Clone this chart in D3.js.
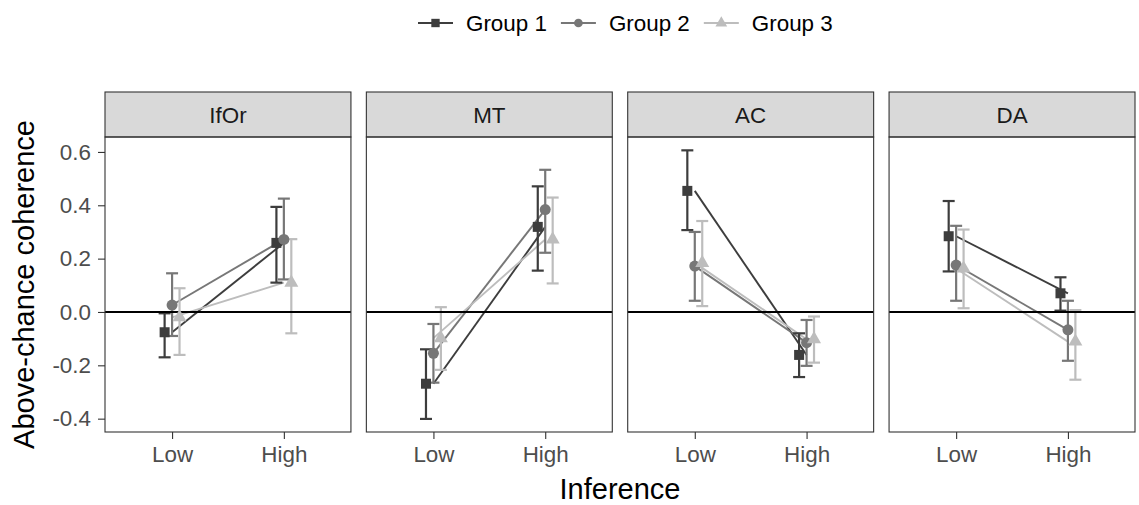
<!DOCTYPE html>
<html>
<head>
<meta charset="utf-8">
<script src="https://cdn.jsdelivr.net/npm/d3@7"></script>
<style>
  body { margin: 0; background: #fff; }
  text { font-family: "Liberation Sans", Arial, sans-serif; }
</style>
</head>
<body>
<svg id="chart" width="1139" height="505"></svg>
<script>
// facets, x levels and groups
var panels = ["IfOr", "MT", "AC", "DA"];
var levels = ["Low", "High"];
var groups = ["Group 1", "Group 2", "Group 3"];
var yTicks = [-0.4, -0.2, 0.0, 0.2, 0.4, 0.6];

// means per group: one [Low, High] pair per panel
var g1Mean = [[-0.076, 0.259], [-0.269, 0.319], [0.454, -0.161], [0.284, 0.070]];
var g2Mean = [[0.026, 0.272], [-0.155, 0.384], [0.172, -0.115], [0.176, -0.067]];
var g3Mean = [[-0.020, 0.110], [-0.098, 0.272], [0.184, -0.102], [0.163, -0.111]];

// error bar upper ends
var g1Upper = [[-0.005, 0.394], [-0.140, 0.471], [0.606, -0.080], [0.416, 0.130]];
var g2Upper = [[0.145, 0.425], [-0.045, 0.533], [0.300, -0.030], [0.323, 0.042]];
var g3Upper = [[0.089, 0.273], [0.018, 0.429], [0.341, -0.017], [0.309, 0.007]];

// error bar lower ends
var g1Lower = [[-0.170, 0.110], [-0.401, 0.155], [0.307, -0.244], [0.152, 0.005]];
var g2Lower = [[-0.090, 0.122], [-0.265, 0.222], [0.042, -0.202], [0.042, -0.183]];
var g3Lower = [[-0.161, -0.080], [-0.217, 0.107], [0.022, -0.190], [0.014, -0.254]];

var means = [g1Mean, g2Mean, g3Mean];
var uppers = [g1Upper, g2Upper, g3Upper];
var lowers = [g1Lower, g2Lower, g3Lower];
var colors = ["#3d3d3d", "#777777", "#bdbdbd"];
var shapes = [d3.symbolSquare, d3.symbolCircle, d3.symbolTriangle];

var svg = d3.select("#chart");

var panelTop = 137, panelBottom = 432, stripTop = 92;
var facet = d3.scaleBand().domain(panels).range([105, 1135]).paddingInner(0.059);
var w = facet.bandwidth();
var x = d3.scalePoint().domain(levels).range([0, w]).padding(0.6);
var y = d3.scaleLinear().domain([-0.45, 0.656]).range([panelBottom, panelTop]);
var dodge = x.step() * 0.2 / 3;

function fmt(v) {
    return Math.abs(v) < 1e-9 ? "0.0" : v.toFixed(1);
}

// build the flat rows
var rows = [];
panels.forEach(function(p, pi) {
    groups.forEach(function(g, gi) {
        levels.forEach(function(l, li) {
            rows.push({ panel: p, pi: pi, gi: gi, level: l,
                mean: means[gi][pi][li], lo: lowers[gi][pi][li], hi: uppers[gi][pi][li] });
        });
    });
});

panels.forEach(function(p, pi) {
    var g = svg.append("g").attr("transform", "translate(" + facet(p) + ",0)");

    // strip
    g.append("rect")
        .attr("x", 0).attr("y", stripTop)
        .attr("width", w).attr("height", panelTop - stripTop)
        .attr("fill", "#d9d9d9").attr("stroke", "#333").attr("stroke-width", 1.1);
    g.append("text")
        .attr("x", w / 2).attr("y", (stripTop + panelTop) / 2)
        .attr("dy", "0.36em")
        .attr("text-anchor", "middle")
        .attr("font-size", 22.4)
        .attr("fill", "#1a1a1a")
        .text(p);

    var panelRows = rows.filter(function(r) { return r.pi === pi; });

    // connecting lines (not dodged)
    groups.forEach(function(gr, gi) {
        var pts = panelRows.filter(function(r) { return r.gi === gi; });
        g.append("path")
            .datum(pts)
            .attr("fill", "none")
            .attr("stroke", colors[gi])
            .attr("stroke-width", 1.9)
            .attr("d", d3.line()
                .x(function(r) { return x(r.level); })
                .y(function(r) { return y(r.mean); }));
    });

    // error bars
    var eb = g.selectAll(".eb").data(panelRows).enter().append("g")
        .attr("transform", function(r) {
            return "translate(" + (x(r.level) + (r.gi - 1) * dodge) + ",0)";
        });
    eb.append("line")
        .attr("x1", 0).attr("x2", 0)
        .attr("y1", function(r) { return y(r.lo); })
        .attr("y2", function(r) { return y(r.hi); })
        .attr("stroke", function(r) { return colors[r.gi]; })
        .attr("stroke-width", 2.2);
    eb.append("line")
        .attr("x1", -6).attr("x2", 6)
        .attr("y1", function(r) { return y(r.lo); })
        .attr("y2", function(r) { return y(r.lo); })
        .attr("stroke", function(r) { return colors[r.gi]; })
        .attr("stroke-width", 2.2);
    eb.append("line")
        .attr("x1", -6).attr("x2", 6)
        .attr("y1", function(r) { return y(r.hi); })
        .attr("y2", function(r) { return y(r.hi); })
        .attr("stroke", function(r) { return colors[r.gi]; })
        .attr("stroke-width", 2.2);

    // zero line
    g.append("line")
        .attr("x1", 0).attr("x2", w)
        .attr("y1", y(0)).attr("y2", y(0))
        .attr("stroke", "#000").attr("stroke-width", 2);

    // points
    g.selectAll(".pt").data(panelRows).enter().append("path")
        .attr("transform", function(r) {
            return "translate(" + (x(r.level) + (r.gi - 1) * dodge) + "," + y(r.mean) + ")";
        })
        .attr("d", function(r) {
            var size = r.gi === 0 ? 100 : (r.gi === 1 ? 95 : 85);
            return d3.symbol().type(shapes[r.gi]).size(size)();
        })
        .attr("fill", function(r) { return colors[r.gi]; });

    // panel border
    g.append("rect")
        .attr("x", 0).attr("y", panelTop)
        .attr("width", w).attr("height", panelBottom - panelTop)
        .attr("fill", "none").attr("stroke", "#333").attr("stroke-width", 1.1);

    // x axis
    var xa = g.append("g").attr("transform", "translate(0," + panelBottom + ")")
        .call(d3.axisBottom(x).tickSize(7).tickPadding(7));
    xa.select(".domain").remove();
    xa.selectAll(".tick line").attr("stroke", "#333").attr("stroke-width", 1.1);
    xa.selectAll(".tick text")
        .attr("font-size", 22.4).attr("fill", "#4d4d4d")
        .attr("font-family", "Liberation Sans, Arial, sans-serif");

    // y axis only on the first panel
    if (pi === 0) {
        var ya = g.append("g")
            .call(d3.axisLeft(y).tickValues(yTicks).tickFormat(fmt).tickSize(7).tickPadding(7));
        ya.select(".domain").remove();
        ya.selectAll(".tick line").attr("stroke", "#333").attr("stroke-width", 1.1);
        ya.selectAll(".tick text")
            .attr("font-size", 22.4).attr("fill", "#4d4d4d")
            .attr("font-family", "Liberation Sans, Arial, sans-serif");
    }
});

// axis titles
svg.append("text")
    .attr("transform", "translate(34," + ((panelTop + panelBottom) / 2) + ") rotate(-90)")
    .attr("text-anchor", "middle")
    .attr("font-size", 29)
    .text("Above-chance coherence");
svg.append("text")
    .attr("x", (facet.range()[0] + facet.range()[1]) / 2)
    .attr("y", 499)
    .attr("text-anchor", "middle")
    .attr("font-size", 29)
    .text("Inference");

// legend
var legend = svg.append("g").attr("transform", "translate(418,23)");
var lx = 0;
groups.forEach(function(gr, gi) {
    var item = legend.append("g").attr("transform", "translate(" + lx + ",0)");
    item.append("line")
        .attr("x1", 0).attr("x2", 35).attr("y1", 0).attr("y2", 0)
        .attr("stroke", colors[gi]).attr("stroke-width", 2);
    item.append("path")
        .attr("transform", "translate(17.5,0)")
        .attr("d", d3.symbol().type(shapes[gi]).size(gi === 0 ? 70 : 60)())
        .attr("fill", colors[gi]);
    var t = item.append("text")
        .attr("x", 48).attr("dy", "0.36em")
        .attr("font-size", 22.4)
        .text(gr);
    lx += 48 + t.node().getComputedTextLength() + 14;
});
</script>
</body>
</html>
